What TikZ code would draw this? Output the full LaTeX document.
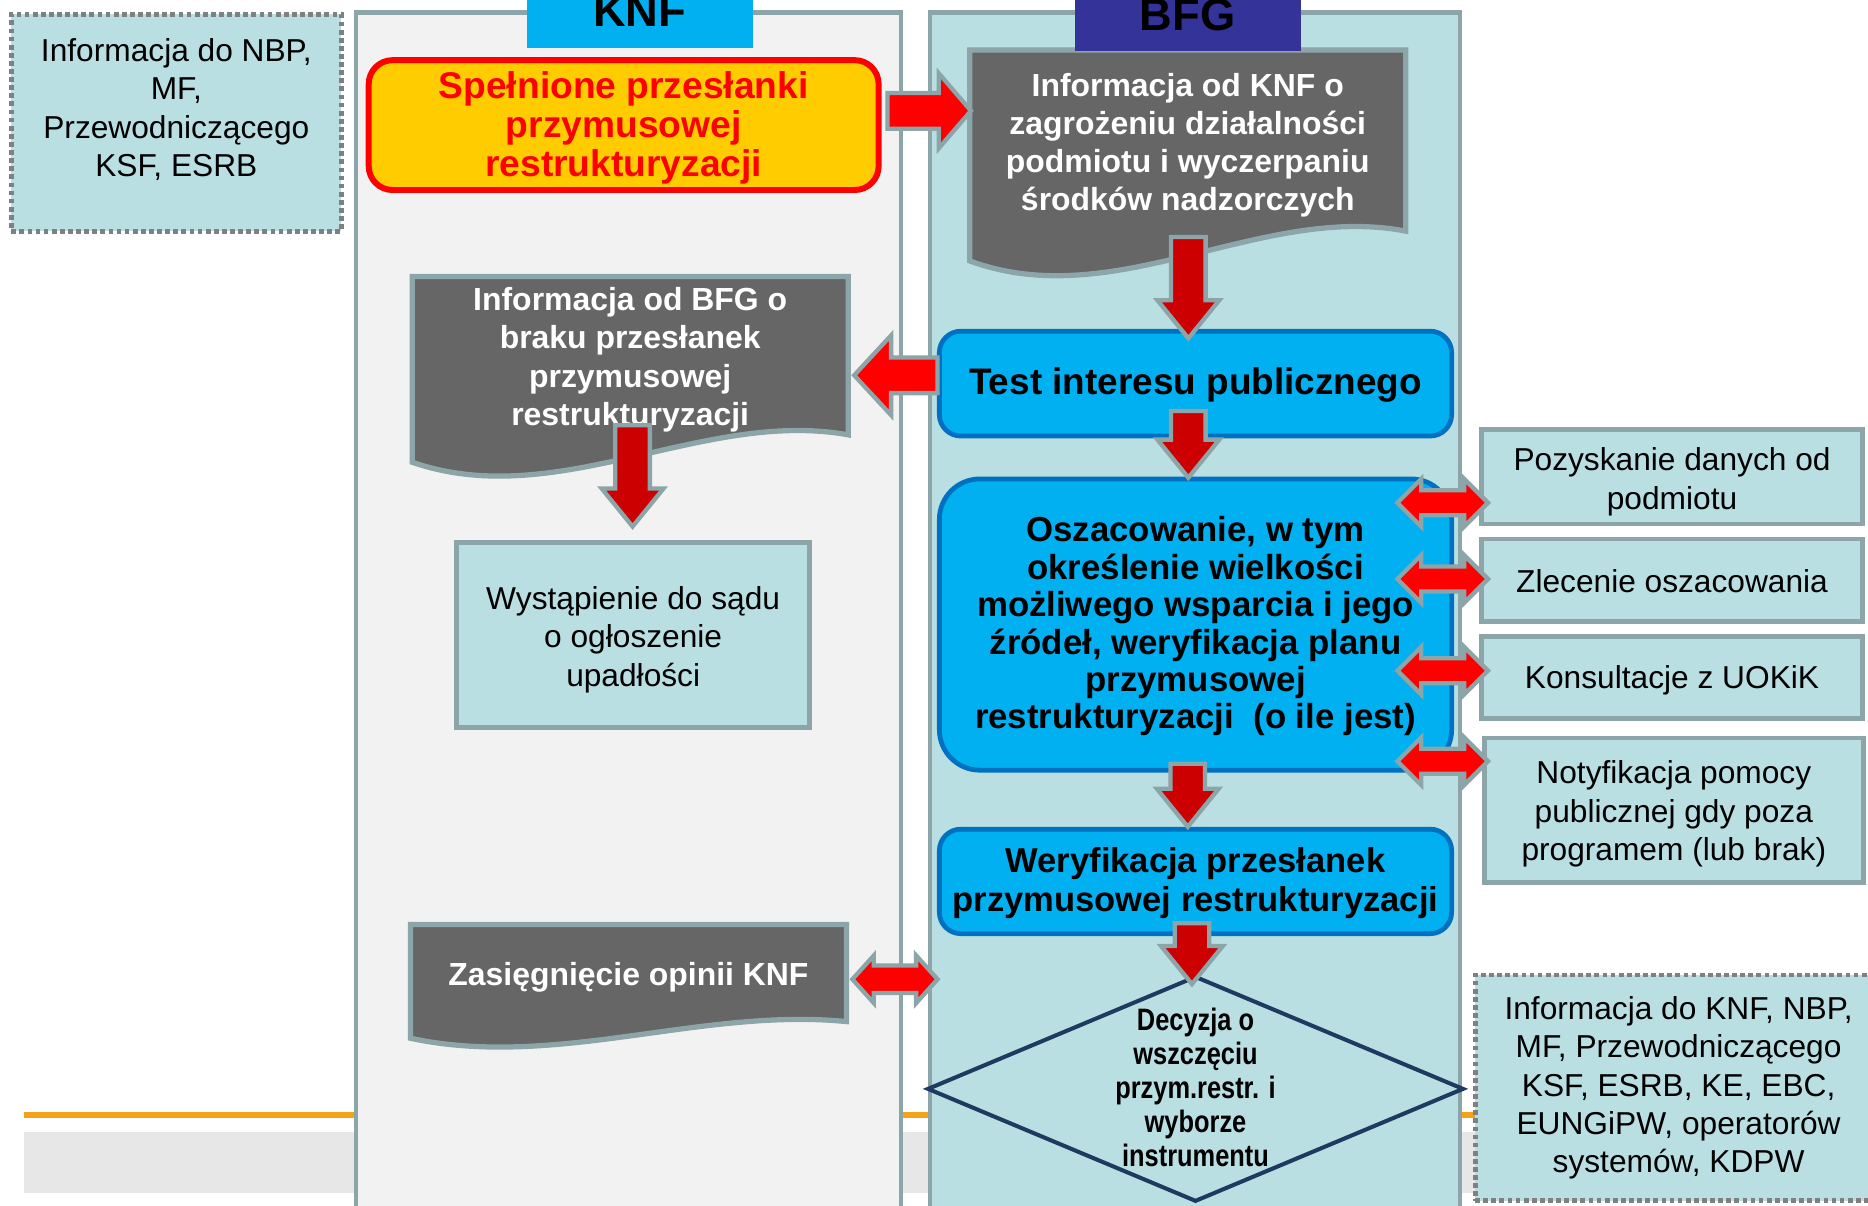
\documentclass[tikz,border=0pt]{standalone}
\usepackage{fontspec}
\setmainfont{Liberation Sans}
\newfontfamily\narrowsans[FakeStretch=0.82]{Liberation Sans}
\usetikzlibrary{calc,shapes.geometric}
\pgfdeclarelayer{bg}\pgfdeclarelayer{docs}\pgfdeclarelayer{fg}
\pgfsetlayers{bg,docs,main,fg}
\definecolor{laneblue}{HTML}{B9DFE3}
\definecolor{lanegray}{HTML}{F2F2F2}
\definecolor{edgegray}{HTML}{8CA5A8}
\definecolor{docgray}{HTML}{666666}
\definecolor{cyanfill}{HTML}{00B0F0}
\definecolor{boxblue}{HTML}{0070C0}
\definecolor{gold}{HTML}{FFCC00}
\definecolor{dred}{HTML}{CC0000}
\definecolor{navyhead}{HTML}{333399}
\definecolor{navyline}{HTML}{1F3A60}
\definecolor{dotgray}{HTML}{808080}
\definecolor{orangeline}{HTML}{F5A21B}
\definecolor{bandgray}{HTML}{E7E7E7}
\newcommand\fs[2]{\fontsize{#1}{#2}\selectfont}
\newcommand\tup[1]{\rule{0pt}{\dimexpr\fontcharht\font`\l+#1*2\relax}}
\tikzset{
  every node/.append style={outer sep=0pt},
  txt/.style={align=center, inner sep=0pt, font=\fs{13.3}{16.1}},
  lanebox/.style={draw=edgegray, line width=1.7pt, inner sep=0pt},
  dotbox/.style={draw=dotgray, line width=2pt, dash pattern=on 2pt off 1.4pt, fill=laneblue, inner sep=0pt, align=center, font=\fs{13.3}{16.1}},
  tealbox/.style={draw=edgegray, line width=2pt, fill=laneblue, inner sep=0pt, align=center, font=\fs{13.3}{16.1}},
  bluebox/.style={draw=boxblue, line width=2pt, fill=cyanfill, rounded corners=9pt, inner sep=0pt, align=center},
  doctext/.style={align=center, text=white, font=\bfseries\fs{13.4}{16}, inner sep=0pt},
  docsty/.style={draw=edgegray, line width=2.2pt, fill=docgray},
  barrow/.style={draw=edgegray, line width=1.8pt},
  headbox/.style={font=\bfseries\fs{19}{20}, inner sep=0pt, minimum width=95pt, anchor=base}
}
\newcommand\arrdown[3][dred]{%
  \draw[barrow,fill=#1] let \p1=(#2),\p2=(#3) in
  ({\x1-7.25pt},{\y1}) -- ({\x1+7.25pt},{\y1}) -- ({\x1+7.25pt},{\y2+16pt}) -- ({\x1+13pt},{\y2+16pt})
  -- ({\x1},{\y2}) -- ({\x1-13pt},{\y2+16pt}) -- ({\x1-7.25pt},{\y2+16pt}) -- cycle;}
\newcommand\arrh[5]{%
  \draw[barrow,fill=red] let \p1=(#1),\p2=(#2) in
  ({\x1},{\y1+#3}) -- ({\x2-#5},{\y1+#3}) -- ({\x2-#5},{\y1+#4}) -- ({\x2},{\y1})
  -- ({\x2-#5},{\y1-#4}) -- ({\x2-#5},{\y1-#3}) -- ({\x1},{\y1-#3}) -- cycle;}
\newcommand\arrdbl[5]{%
  \draw[barrow,fill=red] let \p1=(#1),\p2=(#2) in
  ({\x1},{\y1}) -- ({\x1+#5},{\y1+#4}) -- ({\x1+#5},{\y1+#3}) -- ({\x2-#5},{\y1+#3}) -- ({\x2-#5},{\y1+#4})
  -- ({\x2},{\y1}) -- ({\x2-#5},{\y1-#4}) -- ({\x2-#5},{\y1-#3}) -- ({\x1+#5},{\y1-#3}) -- ({\x1+#5},{\y1-#4}) -- cycle;}
\newcommand\docshape[4]{%
  \draw[docsty] ($(#1.south west)+(0,#2)$) -- (#1.north west) -- (#1.north east) -- (#1.south east)
  .. controls ($(#1.south west)!0.6667!(#1.south east)+(0,#4)$) and ($(#1.south west)!0.3333!(#1.south east)+(0,#3)$) ..
  ($(#1.south west)+(0,#2)$) -- cycle;}
\begin{document}
\begin{tikzpicture}[x=0.5pt,y=-0.5pt]
\useasboundingbox (0,0) rectangle (1568,1012);
\clip (0,0) rectangle (1568,1012);
\begin{pgfonlayer}{bg}
  \fill[white] (0,0) rectangle (1568,1012);
  \fill[bandgray] (20,950) rectangle (1240,1001.5);
  \draw[orangeline, line width=2.85pt] (20,936) -- (1240,936);
  \node[lanebox, fill=lanegray, minimum width=228.9pt, minimum height=514.75pt] (knflane) at (527.4,525.25) {};
  \node[lanebox, fill=laneblue, minimum width=222.25pt, minimum height=514.75pt] (bfglane) at (1003.25,525.25) {};
\end{pgfonlayer}

% headers
\node[headbox, fill=cyanfill, text height=16.25pt, text depth=8.75pt] (knfhead) at (537,22.5) {KNF};
\node[headbox, fill=navyhead, text height=17.85pt, text depth=8.65pt] (bfghead) at (997,25.7) {BFG};

% left dotted box
\node[dotbox, minimum width=138.5pt, minimum height=91pt] (tlbox) at (148,103) {};
\node[txt] (tltext) at (148,92) {Informacja do NBP,\\MF,\\Przewodniczącego\\KSF, ESRB};

% KNF lane
\node[draw=red, line width=2.5pt, fill=gold, rounded corners=10pt, minimum width=214pt, minimum height=54.5pt,
      inner sep=0pt, align=center, text=red, font=\bfseries\fs{15.6}{16.5}] (spel) at (523.5,105)
      {\tup{1.5pt}Spełnione przesłanki\\przymusowej\\restrukturyzacji};
\node[doctext, minimum width=183pt, minimum height=66.5pt] (bfgdoc) at (529,298.5)
      {\tup{2pt}Informacja od BFG o\\braku przesłanek\\przymusowej\\restrukturyzacji};
\node[tealbox, minimum width=148pt, minimum height=77.4pt] (wyst) at (531.5,533)
      {\tup{2.25pt}Wystąpienie do sądu\\o ogłoszenie\\upadłości};
\node[doctext, minimum width=183pt, minimum height=40.75pt] (zas) at (527.5,816.75) {\tup{2pt}Zasięgnięcie opinii KNF};

% BFG lane
\node[doctext, minimum width=183pt, minimum height=76pt] (knfinfo) at (997,118)
      {\tup{2.25pt}Informacja od KNF o\\zagrożeniu działalności\\podmiotu i wyczerpaniu\\środków nadzorczych};
\node[bluebox, minimum width=215pt, minimum height=44pt, font=\bfseries\fs{15.5}{18}] (test) at (1003.5,322)
      {\tup{1pt}Test interesu publicznego};
\node[bluebox, rounded corners=17pt, minimum width=215pt, minimum height=122.25pt, font=\bfseries\fs{14.6}{15.7}] (osz) at (1003.5,524.25)
      {\tup{1pt}Oszacowanie, w tym\\określenie wielkości\\możliwego wsparcia i jego\\źródeł, weryfikacja planu\\przymusowej\\restrukturyzacji\ \ (o ile jest)};
\node[bluebox, minimum width=215pt, minimum height=43.85pt, font=\bfseries\fs{14.5}{16.5}] (wer) at (1003.5,739.85)
      {\tup{1pt}Weryfikacja przesłanek\\przymusowej restrukturyzacji};
\node[diamond, draw=navyline, line width=1.7pt, fill=laneblue, minimum width=224.5pt, minimum height=94pt, inner sep=0pt] (dec) at (1003.5,914) {};
\node[align=center, inner sep=0pt, font=\narrowsans\bfseries\fs{13}{14.25}] (dect) at (1003.5,913)
      {Decyzja o\\wszczęciu\\przym.restr. i\\wyborze\\instrumentu};

% right boxes
\node[tealbox, minimum width=160pt, minimum height=39.8pt] (poz) at (1403.5,400) {\tup{2.5pt}Pozyskanie danych od\\podmiotu};
\node[tealbox, minimum width=160pt, minimum height=34.5pt] (zlec) at (1403.5,487) {\tup{0.5pt}Zlecenie oszacowania};
\node[tealbox, minimum width=160pt, minimum height=34.25pt] (kons) at (1403.5,568.75) {\tup{1.5pt}Konsultacje z UOKiK};
\node[tealbox, minimum width=159pt, minimum height=60.75pt] (noty) at (1405,680.25) {\tup{1.75pt}Notyfikacja pomocy\\publicznej gdy poza\\programem (lub brak)};
\node[dotbox, minimum width=170.75pt, minimum height=94.75pt] (brbox) at (1409,913.25)
      {Informacja do KNF, NBP,\\MF, Przewodniczącego\\KSF, ESRB, KE, EBC,\\EUNGiPW, operatorów\\systemów, KDPW};

% document shapes
\begin{pgfonlayer}{docs}
  \docshape{knfinfo}{25}{70}{-23.5}
  \docshape{bfgdoc}{23}{65}{-22}
  \docshape{zas}{14}{40}{-12}
\end{pgfonlayer}

% arrows
\begin{pgfonlayer}{fg}
  \arrh{$(spel.east)+(7.5,-12)$}{$(knfinfo.west)+(1,-25)$}{7.5pt}{15.75pt}{13.5pt}
  \arrh{$(test.west)+(-1.5,-7)$}{$(bfgdoc.east)+(5,16.5)$}{7.5pt}{16.75pt}{(-15.5pt)}
  \arrdown{$(knfinfo.south)+(0.5,5)$}{$(test.north)+(-6,6)$}
  \arrdown{$(test.south)+(-6,-21)$}{$(osz.north)+(-6,-1)$}
  \arrdown{$(osz.south)+(-6.5,-5.5)$}{$(wer.north)+(-6.5,-2)$}
  \arrdown{$(wer.south)+(-3,-8.7)$}{$(dec.north)+(-3,6)$}
  \arrdown{$(bfgdoc.south)+(2,-8)$}{$(wyst.north)+(-0.5,-13.6)$}
  \arrdbl{$(osz.east)+(-45.5,-102.25)$}{$(poz.west)+(5.5,22)$}{5.25pt}{10pt}{10pt}
  \arrdbl{$(osz.east)+(-45.5,-38.25)$}{$(zlec.west)+(5.5,-1)$}{5.25pt}{10pt}{10pt}
  \arrdbl{$(osz.east)+(-45.5,38.75)$}{$(kons.west)+(5.5,-5.75)$}{5.25pt}{10pt}{10pt}
  \arrdbl{$(osz.east)+(-45.5,114.75)$}{$(noty.west)+(3,-41.25)$}{5.25pt}{10pt}{10pt}
  \arrdbl{$(zas.east)+(5,5.25)$}{$(bfglane.west)+(6,0)$}{5.75pt}{10pt}{9pt}
\end{pgfonlayer}
\end{tikzpicture}
\end{document}
